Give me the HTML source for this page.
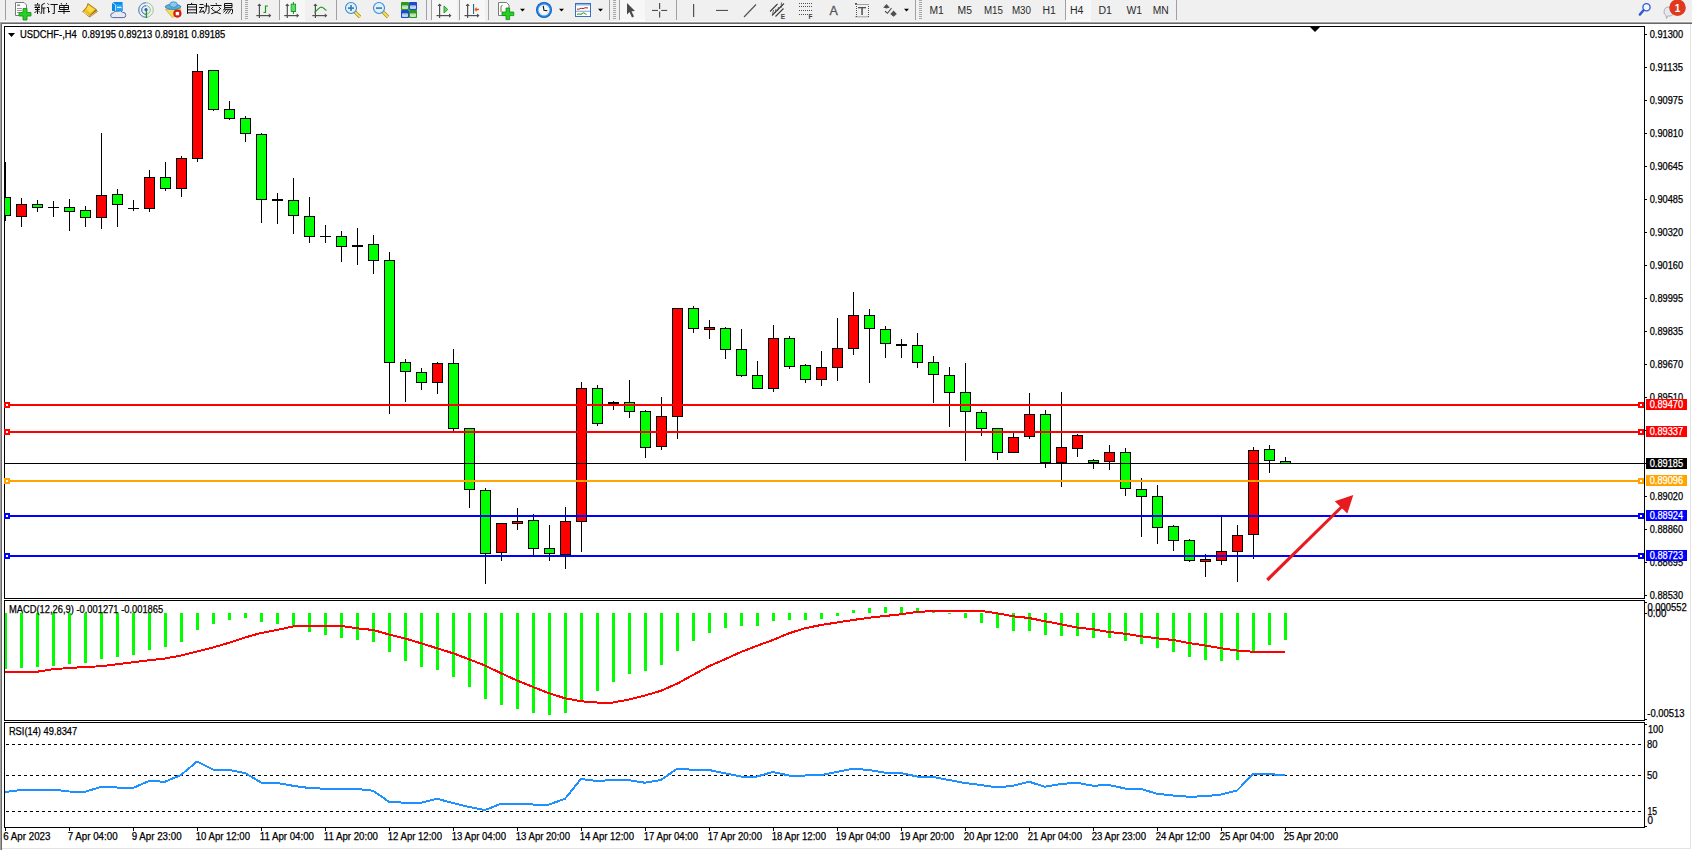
<!DOCTYPE html><html><head><meta charset="utf-8"><style>html,body{margin:0;padding:0;width:1692px;height:850px;overflow:hidden;background:#fff}svg{display:block}text{font-family:"Liberation Sans",sans-serif}</style></head><body><svg width="1692" height="850" viewBox="0 0 1692 850" shape-rendering="crispEdges"><defs><clipPath id="cm"><rect x="5" y="27" width="1639" height="571"/></clipPath><clipPath id="cmacd"><rect x="5" y="601" width="1639" height="119"/></clipPath><clipPath id="crsi"><rect x="5" y="723" width="1639" height="104"/></clipPath></defs><rect x="0" y="0" width="1692" height="850" fill="#ffffff"/><rect x="0" y="0" width="1692" height="22" fill="#f0f0f0"/><rect x="0" y="22" width="1692" height="1" fill="#a0a0a0"/><rect x="0" y="23" width="1692" height="1" fill="#696969"/><rect x="0" y="22" width="1" height="828" fill="#a0a0a0"/><rect x="1" y="23" width="1" height="827" fill="#696969"/><rect x="0" y="21" width="1692" height="1" fill="#f9f9f9"/><rect x="1690" y="24" width="1" height="825" fill="#e3e3e3"/><rect x="2" y="848" width="1689" height="1" fill="#e3e3e3"/><rect x="4" y="26" width="1641" height="1" fill="#000"/><rect x="4" y="598" width="1641" height="1" fill="#000"/><rect x="4" y="26" width="1" height="573" fill="#000"/><rect x="1644" y="26" width="1" height="573" fill="#000"/><rect x="4" y="600" width="1641" height="1" fill="#000"/><rect x="4" y="720" width="1641" height="1" fill="#000"/><rect x="4" y="600" width="1" height="121" fill="#000"/><rect x="1644" y="600" width="1" height="121" fill="#000"/><rect x="4" y="722" width="1641" height="1" fill="#000"/><rect x="4" y="827" width="1641" height="1" fill="#000"/><rect x="4" y="722" width="1" height="106" fill="#000"/><rect x="1644" y="722" width="1" height="106" fill="#000"/><g clip-path="url(#cm)"><rect x="5" y="162" width="1" height="59" fill="#000"/><rect x="0" y="197" width="11" height="19" fill="#000"/><rect x="1" y="198" width="9" height="17" fill="#00ff00"/><rect x="21" y="198" width="1" height="29" fill="#000"/><rect x="16" y="204" width="11" height="13" fill="#000"/><rect x="17" y="205" width="9" height="11" fill="#ff0000"/><rect x="37" y="200" width="1" height="12" fill="#000"/><rect x="32" y="204" width="11" height="4" fill="#000"/><rect x="33" y="205" width="9" height="2" fill="#00ff00"/><rect x="53" y="201" width="1" height="16" fill="#000"/><rect x="48" y="207" width="11" height="1" fill="#000"/><rect x="69" y="199" width="1" height="32" fill="#000"/><rect x="64" y="207" width="11" height="5" fill="#000"/><rect x="65" y="208" width="9" height="3" fill="#00ff00"/><rect x="85" y="206" width="1" height="21" fill="#000"/><rect x="80" y="210" width="11" height="8" fill="#000"/><rect x="81" y="211" width="9" height="6" fill="#00ff00"/><rect x="101" y="133" width="1" height="96" fill="#000"/><rect x="96" y="195" width="11" height="23" fill="#000"/><rect x="97" y="196" width="9" height="21" fill="#ff0000"/><rect x="117" y="189" width="1" height="38" fill="#000"/><rect x="112" y="194" width="11" height="11" fill="#000"/><rect x="113" y="195" width="9" height="9" fill="#00ff00"/><rect x="133" y="200" width="1" height="11" fill="#000"/><rect x="128" y="208" width="11" height="1" fill="#000"/><rect x="149" y="170" width="1" height="42" fill="#000"/><rect x="144" y="177" width="11" height="32" fill="#000"/><rect x="145" y="178" width="9" height="30" fill="#ff0000"/><rect x="165" y="162" width="1" height="29" fill="#000"/><rect x="160" y="177" width="11" height="12" fill="#000"/><rect x="161" y="178" width="9" height="10" fill="#00ff00"/><rect x="181" y="156" width="1" height="41" fill="#000"/><rect x="176" y="158" width="11" height="31" fill="#000"/><rect x="177" y="159" width="9" height="29" fill="#ff0000"/><rect x="197" y="54" width="1" height="108" fill="#000"/><rect x="192" y="71" width="11" height="88" fill="#000"/><rect x="193" y="72" width="9" height="86" fill="#ff0000"/><rect x="213" y="70" width="1" height="41" fill="#000"/><rect x="208" y="70" width="11" height="40" fill="#000"/><rect x="209" y="71" width="9" height="38" fill="#00ff00"/><rect x="229" y="101" width="1" height="19" fill="#000"/><rect x="224" y="109" width="11" height="10" fill="#000"/><rect x="225" y="110" width="9" height="8" fill="#00ff00"/><rect x="245" y="116" width="1" height="26" fill="#000"/><rect x="240" y="118" width="11" height="16" fill="#000"/><rect x="241" y="119" width="9" height="14" fill="#00ff00"/><rect x="261" y="133" width="1" height="90" fill="#000"/><rect x="256" y="134" width="11" height="66" fill="#000"/><rect x="257" y="135" width="9" height="64" fill="#00ff00"/><rect x="277" y="193" width="1" height="31" fill="#000"/><rect x="272" y="199" width="11" height="2" fill="#000"/><rect x="293" y="178" width="1" height="56" fill="#000"/><rect x="288" y="200" width="11" height="16" fill="#000"/><rect x="289" y="201" width="9" height="14" fill="#00ff00"/><rect x="309" y="197" width="1" height="46" fill="#000"/><rect x="304" y="216" width="11" height="21" fill="#000"/><rect x="305" y="217" width="9" height="19" fill="#00ff00"/><rect x="325" y="225" width="1" height="18" fill="#000"/><rect x="320" y="236" width="11" height="1" fill="#000"/><rect x="341" y="231" width="1" height="31" fill="#000"/><rect x="336" y="236" width="11" height="11" fill="#000"/><rect x="337" y="237" width="9" height="9" fill="#00ff00"/><rect x="357" y="228" width="1" height="37" fill="#000"/><rect x="352" y="245" width="11" height="2" fill="#000"/><rect x="373" y="235" width="1" height="39" fill="#000"/><rect x="368" y="244" width="11" height="17" fill="#000"/><rect x="369" y="245" width="9" height="15" fill="#00ff00"/><rect x="389" y="252" width="1" height="162" fill="#000"/><rect x="384" y="260" width="11" height="103" fill="#000"/><rect x="385" y="261" width="9" height="101" fill="#00ff00"/><rect x="405" y="359" width="1" height="43" fill="#000"/><rect x="400" y="362" width="11" height="10" fill="#000"/><rect x="401" y="363" width="9" height="8" fill="#00ff00"/><rect x="421" y="368" width="1" height="22" fill="#000"/><rect x="416" y="372" width="11" height="11" fill="#000"/><rect x="417" y="373" width="9" height="9" fill="#00ff00"/><rect x="437" y="362" width="1" height="32" fill="#000"/><rect x="432" y="363" width="11" height="20" fill="#000"/><rect x="433" y="364" width="9" height="18" fill="#ff0000"/><rect x="453" y="349" width="1" height="83" fill="#000"/><rect x="448" y="363" width="11" height="66" fill="#000"/><rect x="449" y="364" width="9" height="64" fill="#00ff00"/><rect x="469" y="428" width="1" height="80" fill="#000"/><rect x="464" y="428" width="11" height="62" fill="#000"/><rect x="465" y="429" width="9" height="60" fill="#00ff00"/><rect x="485" y="488" width="1" height="96" fill="#000"/><rect x="480" y="490" width="11" height="64" fill="#000"/><rect x="481" y="491" width="9" height="62" fill="#00ff00"/><rect x="501" y="523" width="1" height="38" fill="#000"/><rect x="496" y="523" width="11" height="30" fill="#000"/><rect x="497" y="524" width="9" height="28" fill="#ff0000"/><rect x="517" y="508" width="1" height="22" fill="#000"/><rect x="512" y="521" width="11" height="3" fill="#000"/><rect x="513" y="522" width="9" height="1" fill="#ff0000"/><rect x="533" y="514" width="1" height="42" fill="#000"/><rect x="528" y="520" width="11" height="29" fill="#000"/><rect x="529" y="521" width="9" height="27" fill="#00ff00"/><rect x="549" y="525" width="1" height="36" fill="#000"/><rect x="544" y="548" width="11" height="6" fill="#000"/><rect x="545" y="549" width="9" height="4" fill="#00ff00"/><rect x="565" y="507" width="1" height="62" fill="#000"/><rect x="560" y="521" width="11" height="34" fill="#000"/><rect x="561" y="522" width="9" height="32" fill="#ff0000"/><rect x="581" y="382" width="1" height="170" fill="#000"/><rect x="576" y="388" width="11" height="134" fill="#000"/><rect x="577" y="389" width="9" height="132" fill="#ff0000"/><rect x="597" y="385" width="1" height="41" fill="#000"/><rect x="592" y="388" width="11" height="36" fill="#000"/><rect x="593" y="389" width="9" height="34" fill="#00ff00"/><rect x="613" y="401" width="1" height="9" fill="#000"/><rect x="608" y="402" width="11" height="2" fill="#000"/><rect x="629" y="380" width="1" height="38" fill="#000"/><rect x="624" y="402" width="11" height="10" fill="#000"/><rect x="625" y="403" width="9" height="8" fill="#00ff00"/><rect x="645" y="410" width="1" height="48" fill="#000"/><rect x="640" y="411" width="11" height="37" fill="#000"/><rect x="641" y="412" width="9" height="35" fill="#00ff00"/><rect x="661" y="397" width="1" height="53" fill="#000"/><rect x="656" y="416" width="11" height="31" fill="#000"/><rect x="657" y="417" width="9" height="29" fill="#ff0000"/><rect x="677" y="308" width="1" height="131" fill="#000"/><rect x="672" y="308" width="11" height="109" fill="#000"/><rect x="673" y="309" width="9" height="107" fill="#ff0000"/><rect x="693" y="306" width="1" height="27" fill="#000"/><rect x="688" y="308" width="11" height="21" fill="#000"/><rect x="689" y="309" width="9" height="19" fill="#00ff00"/><rect x="709" y="320" width="1" height="19" fill="#000"/><rect x="704" y="327" width="11" height="3" fill="#000"/><rect x="705" y="328" width="9" height="1" fill="#ff0000"/><rect x="725" y="327" width="1" height="32" fill="#000"/><rect x="720" y="328" width="11" height="22" fill="#000"/><rect x="721" y="329" width="9" height="20" fill="#00ff00"/><rect x="741" y="329" width="1" height="48" fill="#000"/><rect x="736" y="349" width="11" height="27" fill="#000"/><rect x="737" y="350" width="9" height="25" fill="#00ff00"/><rect x="757" y="361" width="1" height="28" fill="#000"/><rect x="752" y="375" width="11" height="14" fill="#000"/><rect x="753" y="376" width="9" height="12" fill="#00ff00"/><rect x="773" y="325" width="1" height="67" fill="#000"/><rect x="768" y="338" width="11" height="51" fill="#000"/><rect x="769" y="339" width="9" height="49" fill="#ff0000"/><rect x="789" y="336" width="1" height="33" fill="#000"/><rect x="784" y="338" width="11" height="29" fill="#000"/><rect x="785" y="339" width="9" height="27" fill="#00ff00"/><rect x="805" y="364" width="1" height="19" fill="#000"/><rect x="800" y="365" width="11" height="15" fill="#000"/><rect x="801" y="366" width="9" height="13" fill="#00ff00"/><rect x="821" y="351" width="1" height="35" fill="#000"/><rect x="816" y="367" width="11" height="13" fill="#000"/><rect x="817" y="368" width="9" height="11" fill="#ff0000"/><rect x="837" y="318" width="1" height="63" fill="#000"/><rect x="832" y="348" width="11" height="20" fill="#000"/><rect x="833" y="349" width="9" height="18" fill="#ff0000"/><rect x="853" y="292" width="1" height="63" fill="#000"/><rect x="848" y="315" width="11" height="34" fill="#000"/><rect x="849" y="316" width="9" height="32" fill="#ff0000"/><rect x="869" y="309" width="1" height="74" fill="#000"/><rect x="864" y="315" width="11" height="14" fill="#000"/><rect x="865" y="316" width="9" height="12" fill="#00ff00"/><rect x="885" y="326" width="1" height="32" fill="#000"/><rect x="880" y="329" width="11" height="15" fill="#000"/><rect x="881" y="330" width="9" height="13" fill="#00ff00"/><rect x="901" y="339" width="1" height="19" fill="#000"/><rect x="896" y="344" width="11" height="2" fill="#000"/><rect x="917" y="333" width="1" height="35" fill="#000"/><rect x="912" y="345" width="11" height="18" fill="#000"/><rect x="913" y="346" width="9" height="16" fill="#00ff00"/><rect x="933" y="356" width="1" height="47" fill="#000"/><rect x="928" y="362" width="11" height="13" fill="#000"/><rect x="929" y="363" width="9" height="11" fill="#00ff00"/><rect x="949" y="367" width="1" height="60" fill="#000"/><rect x="944" y="375" width="11" height="18" fill="#000"/><rect x="945" y="376" width="9" height="16" fill="#00ff00"/><rect x="965" y="363" width="1" height="98" fill="#000"/><rect x="960" y="392" width="11" height="20" fill="#000"/><rect x="961" y="393" width="9" height="18" fill="#00ff00"/><rect x="981" y="410" width="1" height="26" fill="#000"/><rect x="976" y="412" width="11" height="17" fill="#000"/><rect x="977" y="413" width="9" height="15" fill="#00ff00"/><rect x="997" y="428" width="1" height="32" fill="#000"/><rect x="992" y="428" width="11" height="25" fill="#000"/><rect x="993" y="429" width="9" height="23" fill="#00ff00"/><rect x="1013" y="433" width="1" height="20" fill="#000"/><rect x="1008" y="437" width="11" height="16" fill="#000"/><rect x="1009" y="438" width="9" height="14" fill="#ff0000"/><rect x="1029" y="393" width="1" height="46" fill="#000"/><rect x="1024" y="414" width="11" height="23" fill="#000"/><rect x="1025" y="415" width="9" height="21" fill="#ff0000"/><rect x="1045" y="410" width="1" height="58" fill="#000"/><rect x="1040" y="414" width="11" height="49" fill="#000"/><rect x="1041" y="415" width="9" height="47" fill="#00ff00"/><rect x="1061" y="392" width="1" height="95" fill="#000"/><rect x="1056" y="447" width="11" height="16" fill="#000"/><rect x="1057" y="448" width="9" height="14" fill="#ff0000"/><rect x="1077" y="434" width="1" height="23" fill="#000"/><rect x="1072" y="435" width="11" height="14" fill="#000"/><rect x="1073" y="436" width="9" height="12" fill="#ff0000"/><rect x="1093" y="459" width="1" height="10" fill="#000"/><rect x="1088" y="460" width="11" height="3" fill="#000"/><rect x="1089" y="461" width="9" height="1" fill="#00ff00"/><rect x="1109" y="445" width="1" height="25" fill="#000"/><rect x="1104" y="452" width="11" height="10" fill="#000"/><rect x="1105" y="453" width="9" height="8" fill="#ff0000"/><rect x="1125" y="448" width="1" height="48" fill="#000"/><rect x="1120" y="452" width="11" height="37" fill="#000"/><rect x="1121" y="453" width="9" height="35" fill="#00ff00"/><rect x="1141" y="478" width="1" height="59" fill="#000"/><rect x="1136" y="489" width="11" height="8" fill="#000"/><rect x="1137" y="490" width="9" height="6" fill="#00ff00"/><rect x="1157" y="485" width="1" height="59" fill="#000"/><rect x="1152" y="496" width="11" height="32" fill="#000"/><rect x="1153" y="497" width="9" height="30" fill="#00ff00"/><rect x="1173" y="525" width="1" height="26" fill="#000"/><rect x="1168" y="526" width="11" height="15" fill="#000"/><rect x="1169" y="527" width="9" height="13" fill="#00ff00"/><rect x="1189" y="539" width="1" height="23" fill="#000"/><rect x="1184" y="540" width="11" height="21" fill="#000"/><rect x="1185" y="541" width="9" height="19" fill="#00ff00"/><rect x="1205" y="554" width="1" height="23" fill="#000"/><rect x="1200" y="559" width="11" height="3" fill="#000"/><rect x="1201" y="560" width="9" height="1" fill="#ff0000"/><rect x="1221" y="516" width="1" height="49" fill="#000"/><rect x="1216" y="551" width="11" height="10" fill="#000"/><rect x="1217" y="552" width="9" height="8" fill="#ff0000"/><rect x="1237" y="525" width="1" height="57" fill="#000"/><rect x="1232" y="535" width="11" height="17" fill="#000"/><rect x="1233" y="536" width="9" height="15" fill="#ff0000"/><rect x="1253" y="447" width="1" height="112" fill="#000"/><rect x="1248" y="450" width="11" height="85" fill="#000"/><rect x="1249" y="451" width="9" height="83" fill="#ff0000"/><rect x="1269" y="445" width="1" height="28" fill="#000"/><rect x="1264" y="449" width="11" height="12" fill="#000"/><rect x="1265" y="450" width="9" height="10" fill="#00ff00"/><rect x="1285" y="457" width="1" height="7" fill="#000"/><rect x="1280" y="461" width="11" height="3" fill="#000"/><rect x="1281" y="462" width="9" height="1" fill="#00ff00"/></g><rect x="5" y="404" width="1639" height="2" fill="#ff0000"/><rect x="4" y="402" width="6" height="6" fill="#ff0000"/><rect x="6" y="404" width="2" height="2" fill="#fff"/><rect x="1638" y="402" width="6" height="6" fill="#ff0000"/><rect x="1640" y="404" width="2" height="2" fill="#fff"/><rect x="5" y="431" width="1639" height="2" fill="#ff0000"/><rect x="4" y="429" width="6" height="6" fill="#ff0000"/><rect x="6" y="431" width="2" height="2" fill="#fff"/><rect x="1638" y="429" width="6" height="6" fill="#ff0000"/><rect x="1640" y="431" width="2" height="2" fill="#fff"/><rect x="5" y="480" width="1639" height="2" fill="#ffa500"/><rect x="4" y="478" width="6" height="6" fill="#ffa500"/><rect x="6" y="480" width="2" height="2" fill="#fff"/><rect x="1638" y="478" width="6" height="6" fill="#ffa500"/><rect x="1640" y="480" width="2" height="2" fill="#fff"/><rect x="5" y="515" width="1639" height="2" fill="#0000ff"/><rect x="4" y="513" width="6" height="6" fill="#0000ff"/><rect x="6" y="515" width="2" height="2" fill="#fff"/><rect x="1638" y="513" width="6" height="6" fill="#0000ff"/><rect x="1640" y="515" width="2" height="2" fill="#fff"/><rect x="5" y="555" width="1639" height="2" fill="#0000ff"/><rect x="4" y="553" width="6" height="6" fill="#0000ff"/><rect x="6" y="555" width="2" height="2" fill="#fff"/><rect x="1638" y="553" width="6" height="6" fill="#0000ff"/><rect x="1640" y="555" width="2" height="2" fill="#fff"/><rect x="5" y="463" width="1639" height="1" fill="#000"/><path d="M1310 27 L1320 27 L1315 32 Z" fill="#000" shape-rendering="geometricPrecision"/><g shape-rendering="geometricPrecision" fill="#e8191f" stroke="none"><path d="M1266.2 578.8 L1341 505.5 L1343 507.6 L1268.4 581.2 Z"/><path d="M1334.8 501.2 L1353.3 495 L1347.3 513.6 Z"/></g><g clip-path="url(#cmacd)"><rect x="4" y="613" width="3" height="56" fill="#00ff00"/><rect x="20" y="613" width="3" height="55" fill="#00ff00"/><rect x="36" y="613" width="3" height="54" fill="#00ff00"/><rect x="52" y="613" width="3" height="53" fill="#00ff00"/><rect x="68" y="613" width="3" height="51" fill="#00ff00"/><rect x="84" y="613" width="3" height="50" fill="#00ff00"/><rect x="100" y="613" width="3" height="46" fill="#00ff00"/><rect x="116" y="613" width="3" height="44" fill="#00ff00"/><rect x="132" y="613" width="3" height="42" fill="#00ff00"/><rect x="148" y="613" width="3" height="37" fill="#00ff00"/><rect x="164" y="613" width="3" height="34" fill="#00ff00"/><rect x="180" y="613" width="3" height="29" fill="#00ff00"/><rect x="196" y="613" width="3" height="17" fill="#00ff00"/><rect x="212" y="613" width="3" height="11" fill="#00ff00"/><rect x="228" y="613" width="3" height="7" fill="#00ff00"/><rect x="244" y="613" width="3" height="5" fill="#00ff00"/><rect x="260" y="613" width="3" height="9" fill="#00ff00"/><rect x="276" y="613" width="3" height="11" fill="#00ff00"/><rect x="292" y="613" width="3" height="14" fill="#00ff00"/><rect x="308" y="613" width="3" height="19" fill="#00ff00"/><rect x="324" y="613" width="3" height="22" fill="#00ff00"/><rect x="340" y="613" width="3" height="25" fill="#00ff00"/><rect x="356" y="613" width="3" height="27" fill="#00ff00"/><rect x="372" y="613" width="3" height="29" fill="#00ff00"/><rect x="388" y="613" width="3" height="39" fill="#00ff00"/><rect x="404" y="613" width="3" height="48" fill="#00ff00"/><rect x="420" y="613" width="3" height="54" fill="#00ff00"/><rect x="436" y="613" width="3" height="57" fill="#00ff00"/><rect x="452" y="613" width="3" height="64" fill="#00ff00"/><rect x="468" y="613" width="3" height="74" fill="#00ff00"/><rect x="484" y="613" width="3" height="86" fill="#00ff00"/><rect x="500" y="613" width="3" height="92" fill="#00ff00"/><rect x="516" y="613" width="3" height="96" fill="#00ff00"/><rect x="532" y="613" width="3" height="100" fill="#00ff00"/><rect x="548" y="613" width="3" height="102" fill="#00ff00"/><rect x="564" y="613" width="3" height="100" fill="#00ff00"/><rect x="580" y="613" width="3" height="87" fill="#00ff00"/><rect x="596" y="613" width="3" height="78" fill="#00ff00"/><rect x="612" y="613" width="3" height="69" fill="#00ff00"/><rect x="628" y="613" width="3" height="61" fill="#00ff00"/><rect x="644" y="613" width="3" height="58" fill="#00ff00"/><rect x="660" y="613" width="3" height="52" fill="#00ff00"/><rect x="676" y="613" width="3" height="38" fill="#00ff00"/><rect x="692" y="613" width="3" height="28" fill="#00ff00"/><rect x="708" y="613" width="3" height="20" fill="#00ff00"/><rect x="724" y="613" width="3" height="15" fill="#00ff00"/><rect x="740" y="613" width="3" height="13" fill="#00ff00"/><rect x="756" y="613" width="3" height="13" fill="#00ff00"/><rect x="772" y="613" width="3" height="8" fill="#00ff00"/><rect x="788" y="613" width="3" height="7" fill="#00ff00"/><rect x="804" y="613" width="3" height="7" fill="#00ff00"/><rect x="820" y="613" width="3" height="6" fill="#00ff00"/><rect x="836" y="613" width="3" height="3" fill="#00ff00"/><rect x="852" y="610" width="3" height="3" fill="#00ff00"/><rect x="868" y="608" width="3" height="5" fill="#00ff00"/><rect x="884" y="607" width="3" height="6" fill="#00ff00"/><rect x="900" y="607" width="3" height="6" fill="#00ff00"/><rect x="916" y="608" width="3" height="5" fill="#00ff00"/><rect x="932" y="610" width="3" height="3" fill="#00ff00"/><rect x="948" y="613" width="3" height="1" fill="#00ff00"/><rect x="964" y="613" width="3" height="5" fill="#00ff00"/><rect x="980" y="613" width="3" height="10" fill="#00ff00"/><rect x="996" y="613" width="3" height="15" fill="#00ff00"/><rect x="1012" y="613" width="3" height="18" fill="#00ff00"/><rect x="1028" y="613" width="3" height="18" fill="#00ff00"/><rect x="1044" y="613" width="3" height="22" fill="#00ff00"/><rect x="1060" y="613" width="3" height="23" fill="#00ff00"/><rect x="1076" y="613" width="3" height="23" fill="#00ff00"/><rect x="1092" y="613" width="3" height="25" fill="#00ff00"/><rect x="1108" y="613" width="3" height="25" fill="#00ff00"/><rect x="1124" y="613" width="3" height="28" fill="#00ff00"/><rect x="1140" y="613" width="3" height="31" fill="#00ff00"/><rect x="1156" y="613" width="3" height="35" fill="#00ff00"/><rect x="1172" y="613" width="3" height="39" fill="#00ff00"/><rect x="1188" y="613" width="3" height="44" fill="#00ff00"/><rect x="1204" y="613" width="3" height="47" fill="#00ff00"/><rect x="1220" y="613" width="3" height="48" fill="#00ff00"/><rect x="1236" y="613" width="3" height="47" fill="#00ff00"/><rect x="1252" y="613" width="3" height="38" fill="#00ff00"/><rect x="1268" y="613" width="3" height="32" fill="#00ff00"/><rect x="1284" y="613" width="3" height="27" fill="#00ff00"/><polyline points="5,672.00 21,672.00 37,671.75 53,669.25 69,668.00 85,667.00 101,666.25 117,664.25 133,662.25 149,660.25 165,658.50 181,655.50 197,651.50 213,647.50 229,642.75 245,637.50 261,633.00 277,630.00 293,626.50 309,625.75 325,625.75 341,626.00 357,628.25 373,630.00 389,634.50 405,638.50 421,643.25 437,648.25 453,653.25 469,659.25 485,665.50 501,673.25 517,680.50 533,687.00 549,693.25 565,698.25 581,701.25 597,702.50 613,702.50 629,699.50 645,695.50 661,690.75 677,683.75 693,675.00 709,666.25 725,659.25 741,652.00 757,645.75 773,640.00 789,633.25 805,628.25 821,625.00 837,622.50 853,620.00 869,617.75 885,616.00 901,614.25 917,612.00 933,611.00 949,610.75 965,610.75 981,611.00 997,613.25 1013,616.25 1029,618.00 1045,621.25 1061,624.25 1077,627.50 1093,629.25 1109,632.00 1125,633.75 1141,636.25 1157,638.25 1173,640.00 1189,643.00 1205,645.50 1221,648.25 1237,650.50 1253,651.75 1269,651.75 1285,651.75" fill="none" stroke="#ff0000" stroke-width="2" shape-rendering="crispEdges"/></g><g clip-path="url(#crsi)"><line x1="6" y1="744.5" x2="1644" y2="744.5" stroke="#000" stroke-width="1" stroke-dasharray="3 3"/><line x1="6" y1="775.5" x2="1644" y2="775.5" stroke="#000" stroke-width="1" stroke-dasharray="3 3"/><line x1="6" y1="811.5" x2="1644" y2="811.5" stroke="#000" stroke-width="1" stroke-dasharray="3 3"/><polyline points="5,792.00 21,790.00 37,789.50 53,789.50 69,791.50 85,791.75 101,787.00 117,787.50 133,788.00 149,781.00 165,781.75 181,775.00 197,761.50 213,769.50 229,770.00 245,773.00 261,782.50 277,783.00 293,785.75 309,788.00 325,788.75 341,788.75 357,789.00 373,790.75 389,801.75 405,802.75 421,802.75 437,798.75 453,803.00 469,807.00 485,810.00 501,803.75 517,803.75 533,804.50 549,804.50 565,798.75 581,779.00 597,781.00 613,780.00 629,780.25 645,782.75 661,780.00 677,768.75 693,769.75 709,770.00 725,773.25 741,776.50 757,776.50 773,772.00 789,775.50 805,775.50 821,775.00 837,772.00 853,768.75 869,770.00 885,772.75 901,773.00 917,776.50 933,777.00 949,780.00 965,783.00 981,785.00 997,787.50 1013,785.75 1029,781.75 1045,786.75 1061,784.00 1077,782.75 1093,785.75 1109,785.00 1125,788.50 1141,789.00 1157,793.75 1173,795.50 1189,796.75 1205,796.25 1221,794.50 1237,790.50 1253,774.25 1269,774.25 1285,775.00" fill="none" stroke="#1e90ff" stroke-width="2" shape-rendering="crispEdges"/></g><rect x="1645" y="34" width="2" height="1" fill="#000"/><rect x="1645" y="67" width="2" height="1" fill="#000"/><rect x="1645" y="100" width="2" height="1" fill="#000"/><rect x="1645" y="133" width="2" height="1" fill="#000"/><rect x="1645" y="166" width="2" height="1" fill="#000"/><rect x="1645" y="199" width="2" height="1" fill="#000"/><rect x="1645" y="232" width="2" height="1" fill="#000"/><rect x="1645" y="265" width="2" height="1" fill="#000"/><rect x="1645" y="298" width="2" height="1" fill="#000"/><rect x="1645" y="331" width="2" height="1" fill="#000"/><rect x="1645" y="364" width="2" height="1" fill="#000"/><rect x="1645" y="397" width="2" height="1" fill="#000"/><rect x="1645" y="430" width="2" height="1" fill="#000"/><rect x="1645" y="463" width="2" height="1" fill="#000"/><rect x="1645" y="496" width="2" height="1" fill="#000"/><rect x="1645" y="529" width="2" height="1" fill="#000"/><rect x="1645" y="562" width="2" height="1" fill="#000"/><rect x="1645" y="595" width="2" height="1" fill="#000"/><text x="1649.7" y="38" fill="#000" stroke="#000" stroke-width="0.25" font-size="10" text-anchor="start"  textLength="33.4" lengthAdjust="spacingAndGlyphs">0.91300</text><text x="1649.7" y="71" fill="#000" stroke="#000" stroke-width="0.25" font-size="10" text-anchor="start"  textLength="33.4" lengthAdjust="spacingAndGlyphs">0.91135</text><text x="1649.7" y="104" fill="#000" stroke="#000" stroke-width="0.25" font-size="10" text-anchor="start"  textLength="33.4" lengthAdjust="spacingAndGlyphs">0.90975</text><text x="1649.7" y="137" fill="#000" stroke="#000" stroke-width="0.25" font-size="10" text-anchor="start"  textLength="33.4" lengthAdjust="spacingAndGlyphs">0.90810</text><text x="1649.7" y="170" fill="#000" stroke="#000" stroke-width="0.25" font-size="10" text-anchor="start"  textLength="33.4" lengthAdjust="spacingAndGlyphs">0.90645</text><text x="1649.7" y="203" fill="#000" stroke="#000" stroke-width="0.25" font-size="10" text-anchor="start"  textLength="33.4" lengthAdjust="spacingAndGlyphs">0.90485</text><text x="1649.7" y="236" fill="#000" stroke="#000" stroke-width="0.25" font-size="10" text-anchor="start"  textLength="33.4" lengthAdjust="spacingAndGlyphs">0.90320</text><text x="1649.7" y="269" fill="#000" stroke="#000" stroke-width="0.25" font-size="10" text-anchor="start"  textLength="33.4" lengthAdjust="spacingAndGlyphs">0.90160</text><text x="1649.7" y="302" fill="#000" stroke="#000" stroke-width="0.25" font-size="10" text-anchor="start"  textLength="33.4" lengthAdjust="spacingAndGlyphs">0.89995</text><text x="1649.7" y="335" fill="#000" stroke="#000" stroke-width="0.25" font-size="10" text-anchor="start"  textLength="33.4" lengthAdjust="spacingAndGlyphs">0.89835</text><text x="1649.7" y="368" fill="#000" stroke="#000" stroke-width="0.25" font-size="10" text-anchor="start"  textLength="33.4" lengthAdjust="spacingAndGlyphs">0.89670</text><text x="1649.7" y="401" fill="#000" stroke="#000" stroke-width="0.25" font-size="10" text-anchor="start"  textLength="33.4" lengthAdjust="spacingAndGlyphs">0.89510</text><text x="1649.7" y="434" fill="#000" stroke="#000" stroke-width="0.25" font-size="10" text-anchor="start"  textLength="33.4" lengthAdjust="spacingAndGlyphs">0.89345</text><text x="1649.7" y="467" fill="#000" stroke="#000" stroke-width="0.25" font-size="10" text-anchor="start"  textLength="33.4" lengthAdjust="spacingAndGlyphs">0.89185</text><text x="1649.7" y="500" fill="#000" stroke="#000" stroke-width="0.25" font-size="10" text-anchor="start"  textLength="33.4" lengthAdjust="spacingAndGlyphs">0.89020</text><text x="1649.7" y="533" fill="#000" stroke="#000" stroke-width="0.25" font-size="10" text-anchor="start"  textLength="33.4" lengthAdjust="spacingAndGlyphs">0.88860</text><text x="1649.7" y="566" fill="#000" stroke="#000" stroke-width="0.25" font-size="10" text-anchor="start"  textLength="33.4" lengthAdjust="spacingAndGlyphs">0.88695</text><text x="1649.7" y="599" fill="#000" stroke="#000" stroke-width="0.25" font-size="10" text-anchor="start"  textLength="33.4" lengthAdjust="spacingAndGlyphs">0.88530</text><rect x="1646" y="399" width="41" height="11" fill="#ff0000"/><rect x="1646" y="426" width="41" height="11" fill="#ff0000"/><rect x="1646" y="475" width="41" height="11" fill="#ffa500"/><rect x="1646" y="510" width="41" height="11" fill="#0000ff"/><rect x="1646" y="550" width="41" height="11" fill="#0000ff"/><rect x="1646" y="458" width="41" height="11" fill="#000"/><rect x="1645" y="602" width="2" height="1" fill="#000"/><rect x="1645" y="613" width="2" height="1" fill="#000"/><rect x="1645" y="719" width="2" height="1" fill="#000"/><rect x="1645" y="724" width="2" height="1" fill="#000"/><rect x="1645" y="826" width="2" height="1" fill="#000"/><rect x="5" y="828" width="1" height="3" fill="#000"/><rect x="69" y="828" width="1" height="3" fill="#000"/><rect x="133" y="828" width="1" height="3" fill="#000"/><rect x="197" y="828" width="1" height="3" fill="#000"/><rect x="261" y="828" width="1" height="3" fill="#000"/><rect x="325" y="828" width="1" height="3" fill="#000"/><rect x="389" y="828" width="1" height="3" fill="#000"/><rect x="453" y="828" width="1" height="3" fill="#000"/><rect x="517" y="828" width="1" height="3" fill="#000"/><rect x="581" y="828" width="1" height="3" fill="#000"/><rect x="645" y="828" width="1" height="3" fill="#000"/><rect x="709" y="828" width="1" height="3" fill="#000"/><rect x="773" y="828" width="1" height="3" fill="#000"/><rect x="837" y="828" width="1" height="3" fill="#000"/><rect x="901" y="828" width="1" height="3" fill="#000"/><rect x="965" y="828" width="1" height="3" fill="#000"/><rect x="1029" y="828" width="1" height="3" fill="#000"/><rect x="1093" y="828" width="1" height="3" fill="#000"/><rect x="1157" y="828" width="1" height="3" fill="#000"/><rect x="1221" y="828" width="1" height="3" fill="#000"/><rect x="1285" y="828" width="1" height="3" fill="#000"/><path d="M8 33 L15 33 L11.5 37 Z" fill="#000" shape-rendering="geometricPrecision"/><text x="1649.7" y="408" fill="#fff" stroke="#fff" stroke-width="0.25" font-size="10" text-anchor="start"  textLength="33.4" lengthAdjust="spacingAndGlyphs">0.89470</text><text x="1649.7" y="435" fill="#fff" stroke="#fff" stroke-width="0.25" font-size="10" text-anchor="start"  textLength="33.4" lengthAdjust="spacingAndGlyphs">0.89337</text><text x="1649.7" y="484" fill="#fff" stroke="#fff" stroke-width="0.25" font-size="10" text-anchor="start"  textLength="33.4" lengthAdjust="spacingAndGlyphs">0.89096</text><text x="1649.7" y="519" fill="#fff" stroke="#fff" stroke-width="0.25" font-size="10" text-anchor="start"  textLength="33.4" lengthAdjust="spacingAndGlyphs">0.88924</text><text x="1649.7" y="559" fill="#fff" stroke="#fff" stroke-width="0.25" font-size="10" text-anchor="start"  textLength="33.4" lengthAdjust="spacingAndGlyphs">0.88723</text><text x="1649.7" y="467" fill="#fff" stroke="#fff" stroke-width="0.25" font-size="10" text-anchor="start"  textLength="33.4" lengthAdjust="spacingAndGlyphs">0.89185</text><text x="1647.5" y="611" fill="#000" stroke="#000" stroke-width="0.25" font-size="10" text-anchor="start"  textLength="39.2" lengthAdjust="spacingAndGlyphs">0.000552</text><text x="1647.5" y="617" fill="#000" stroke="#000" stroke-width="0.25" font-size="10" text-anchor="start"  textLength="18.8" lengthAdjust="spacingAndGlyphs">0.00</text><text x="1647.25" y="717" fill="#000" stroke="#000" stroke-width="0.25" font-size="10" text-anchor="start"  textLength="37.2" lengthAdjust="spacingAndGlyphs">-0.00513</text><text x="1648.0" y="733" fill="#000" stroke="#000" stroke-width="0.25" font-size="10" text-anchor="start"  textLength="15.2" lengthAdjust="spacingAndGlyphs">100</text><text x="1647.0" y="748" fill="#000" stroke="#000" stroke-width="0.25" font-size="10" text-anchor="start"  textLength="10.5" lengthAdjust="spacingAndGlyphs">80</text><text x="1647.0" y="779" fill="#000" stroke="#000" stroke-width="0.25" font-size="10" text-anchor="start"  textLength="10.5" lengthAdjust="spacingAndGlyphs">50</text><text x="1647.5" y="815" fill="#000" stroke="#000" stroke-width="0.25" font-size="10" text-anchor="start"  textLength="9.5" lengthAdjust="spacingAndGlyphs">15</text><text x="1647.5" y="824" fill="#000" stroke="#000" stroke-width="0.25" font-size="10" text-anchor="start"  textLength="5.5" lengthAdjust="spacingAndGlyphs">0</text><text x="3.25" y="840" fill="#000" stroke="#000" stroke-width="0.25" font-size="10" text-anchor="start"  textLength="47.2" lengthAdjust="spacingAndGlyphs">6 Apr 2023</text><text x="67.75" y="840" fill="#000" stroke="#000" stroke-width="0.25" font-size="10" text-anchor="start"  textLength="49.8" lengthAdjust="spacingAndGlyphs">7 Apr 04:00</text><text x="131.75" y="840" fill="#000" stroke="#000" stroke-width="0.25" font-size="10" text-anchor="start"  textLength="49.8" lengthAdjust="spacingAndGlyphs">9 Apr 23:00</text><text x="195.75" y="840" fill="#000" stroke="#000" stroke-width="0.25" font-size="10" text-anchor="start"  textLength="54.2" lengthAdjust="spacingAndGlyphs">10 Apr 12:00</text><text x="259.75" y="840" fill="#000" stroke="#000" stroke-width="0.25" font-size="10" text-anchor="start"  textLength="54.2" lengthAdjust="spacingAndGlyphs">11 Apr 04:00</text><text x="323.75" y="840" fill="#000" stroke="#000" stroke-width="0.25" font-size="10" text-anchor="start"  textLength="54.2" lengthAdjust="spacingAndGlyphs">11 Apr 20:00</text><text x="387.75" y="840" fill="#000" stroke="#000" stroke-width="0.25" font-size="10" text-anchor="start"  textLength="54.2" lengthAdjust="spacingAndGlyphs">12 Apr 12:00</text><text x="451.75" y="840" fill="#000" stroke="#000" stroke-width="0.25" font-size="10" text-anchor="start"  textLength="54.2" lengthAdjust="spacingAndGlyphs">13 Apr 04:00</text><text x="515.75" y="840" fill="#000" stroke="#000" stroke-width="0.25" font-size="10" text-anchor="start"  textLength="54.2" lengthAdjust="spacingAndGlyphs">13 Apr 20:00</text><text x="579.75" y="840" fill="#000" stroke="#000" stroke-width="0.25" font-size="10" text-anchor="start"  textLength="54.2" lengthAdjust="spacingAndGlyphs">14 Apr 12:00</text><text x="643.75" y="840" fill="#000" stroke="#000" stroke-width="0.25" font-size="10" text-anchor="start"  textLength="54.2" lengthAdjust="spacingAndGlyphs">17 Apr 04:00</text><text x="707.75" y="840" fill="#000" stroke="#000" stroke-width="0.25" font-size="10" text-anchor="start"  textLength="54.2" lengthAdjust="spacingAndGlyphs">17 Apr 20:00</text><text x="771.75" y="840" fill="#000" stroke="#000" stroke-width="0.25" font-size="10" text-anchor="start"  textLength="54.2" lengthAdjust="spacingAndGlyphs">18 Apr 12:00</text><text x="835.75" y="840" fill="#000" stroke="#000" stroke-width="0.25" font-size="10" text-anchor="start"  textLength="54.2" lengthAdjust="spacingAndGlyphs">19 Apr 04:00</text><text x="899.75" y="840" fill="#000" stroke="#000" stroke-width="0.25" font-size="10" text-anchor="start"  textLength="54.2" lengthAdjust="spacingAndGlyphs">19 Apr 20:00</text><text x="963.75" y="840" fill="#000" stroke="#000" stroke-width="0.25" font-size="10" text-anchor="start"  textLength="54.2" lengthAdjust="spacingAndGlyphs">20 Apr 12:00</text><text x="1027.75" y="840" fill="#000" stroke="#000" stroke-width="0.25" font-size="10" text-anchor="start"  textLength="54.2" lengthAdjust="spacingAndGlyphs">21 Apr 04:00</text><text x="1091.75" y="840" fill="#000" stroke="#000" stroke-width="0.25" font-size="10" text-anchor="start"  textLength="54.2" lengthAdjust="spacingAndGlyphs">23 Apr 23:00</text><text x="1155.75" y="840" fill="#000" stroke="#000" stroke-width="0.25" font-size="10" text-anchor="start"  textLength="54.2" lengthAdjust="spacingAndGlyphs">24 Apr 12:00</text><text x="1219.75" y="840" fill="#000" stroke="#000" stroke-width="0.25" font-size="10" text-anchor="start"  textLength="54.2" lengthAdjust="spacingAndGlyphs">25 Apr 04:00</text><text x="1283.75" y="840" fill="#000" stroke="#000" stroke-width="0.25" font-size="10" text-anchor="start"  textLength="54.2" lengthAdjust="spacingAndGlyphs">25 Apr 20:00</text><text x="20.0" y="38" fill="#000" stroke="#000" stroke-width="0.25" font-size="10" text-anchor="start"  textLength="205.3" lengthAdjust="spacingAndGlyphs">USDCHF-,H4&#160;&#160;0.89195 0.89213 0.89181 0.89185</text><text x="9.0" y="613" fill="#000" stroke="#000" stroke-width="0.25" font-size="10" text-anchor="start"  textLength="154.2" lengthAdjust="spacingAndGlyphs">MACD(12,26,9) -0.001271 -0.001865</text><text x="8.9" y="735" fill="#000" stroke="#000" stroke-width="0.25" font-size="10" text-anchor="start"  textLength="68.3" lengthAdjust="spacingAndGlyphs">RSI(14) 49.8347</text><rect x="5" y="0" width="1" height="20" fill="#a0a0a0"/><rect x="241" y="0" width="1" height="20" fill="#a0a0a0"/><rect x="279" y="0" width="1" height="20" fill="#a0a0a0"/><rect x="336" y="0" width="1" height="20" fill="#a0a0a0"/><rect x="426" y="0" width="1" height="20" fill="#a0a0a0"/><rect x="431" y="0" width="1" height="20" fill="#a0a0a0"/><rect x="459" y="0" width="1" height="20" fill="#a0a0a0"/><rect x="488" y="0" width="1" height="20" fill="#a0a0a0"/><rect x="609" y="0" width="1" height="20" fill="#a0a0a0"/><rect x="619" y="0" width="1" height="20" fill="#a0a0a0"/><rect x="676" y="0" width="1" height="20" fill="#a0a0a0"/><rect x="915" y="0" width="1" height="20" fill="#a0a0a0"/><rect x="1065" y="0" width="1" height="20" fill="#a0a0a0"/><rect x="1176" y="0" width="1" height="20" fill="#a0a0a0"/><rect x="245" y="0" width="3" height="1" fill="#a8a8a8"/><rect x="245" y="2" width="3" height="1" fill="#a8a8a8"/><rect x="245" y="4" width="3" height="1" fill="#a8a8a8"/><rect x="245" y="6" width="3" height="1" fill="#a8a8a8"/><rect x="245" y="8" width="3" height="1" fill="#a8a8a8"/><rect x="245" y="10" width="3" height="1" fill="#a8a8a8"/><rect x="245" y="12" width="3" height="1" fill="#a8a8a8"/><rect x="245" y="14" width="3" height="1" fill="#a8a8a8"/><rect x="245" y="16" width="3" height="1" fill="#a8a8a8"/><rect x="245" y="18" width="3" height="1" fill="#a8a8a8"/><rect x="613" y="0" width="3" height="1" fill="#a8a8a8"/><rect x="613" y="2" width="3" height="1" fill="#a8a8a8"/><rect x="613" y="4" width="3" height="1" fill="#a8a8a8"/><rect x="613" y="6" width="3" height="1" fill="#a8a8a8"/><rect x="613" y="8" width="3" height="1" fill="#a8a8a8"/><rect x="613" y="10" width="3" height="1" fill="#a8a8a8"/><rect x="613" y="12" width="3" height="1" fill="#a8a8a8"/><rect x="613" y="14" width="3" height="1" fill="#a8a8a8"/><rect x="613" y="16" width="3" height="1" fill="#a8a8a8"/><rect x="613" y="18" width="3" height="1" fill="#a8a8a8"/><rect x="919" y="0" width="3" height="1" fill="#a8a8a8"/><rect x="919" y="2" width="3" height="1" fill="#a8a8a8"/><rect x="919" y="4" width="3" height="1" fill="#a8a8a8"/><rect x="919" y="6" width="3" height="1" fill="#a8a8a8"/><rect x="919" y="8" width="3" height="1" fill="#a8a8a8"/><rect x="919" y="10" width="3" height="1" fill="#a8a8a8"/><rect x="919" y="12" width="3" height="1" fill="#a8a8a8"/><rect x="919" y="14" width="3" height="1" fill="#a8a8a8"/><rect x="919" y="16" width="3" height="1" fill="#a8a8a8"/><rect x="919" y="18" width="3" height="1" fill="#a8a8a8"/><rect x="280" y="0" width="25" height="20" fill="#f7f7f7"/><rect x="280" y="20" width="25" height="1" fill="#ffffff"/><rect x="432" y="0" width="25" height="20" fill="#f7f7f7"/><rect x="432" y="20" width="25" height="1" fill="#ffffff"/><rect x="460" y="0" width="25" height="20" fill="#f7f7f7"/><rect x="460" y="20" width="25" height="1" fill="#ffffff"/><rect x="620" y="0" width="25" height="20" fill="#f7f7f7"/><rect x="620" y="20" width="25" height="1" fill="#ffffff"/><rect x="1066" y="0" width="25" height="20" fill="#f7f7f7"/><rect x="1066" y="20" width="25" height="1" fill="#ffffff"/><g shape-rendering="geometricPrecision"><path d="M15.5 2.5 H24 L26.5 5 V15.5 H15.5 Z" fill="#fff" stroke="#7a7a7a" stroke-width="1"/><rect x="17" y="4.5" width="3" height="1.5" fill="#8a8a8a"/><rect x="17" y="8" width="5" height="1" fill="#9a9a9a"/><rect x="17" y="10" width="5" height="1" fill="#9a9a9a"/><rect x="17" y="12" width="3" height="1" fill="#9a9a9a"/><path d="M23 8.5 H27 V12.5 H31 V16 H27 V20 H23 V16 H19 V12.5 H23 Z" fill="#26d026" stroke="#0e8e0e" stroke-width="0.8"/><path d="M87.8 3.1 L96.5 9.2 L97.7 11.7 L89.7 17.6 L82.2 11.8 L86.3 7.1 Z" fill="#a8700e"/><path d="M88.2 4.2 L95.6 9.4 L89.6 15.2 L83.5 11.4 L86.8 7.4 Z" fill="#f0c020"/><path d="M88.5 5.2 L94.5 9.5 L90.5 12.8 L86.5 9.5 Z" fill="#f8dc50"/><path d="M83.6 11.6 L89.6 15.4 L89.8 16.6 L83.2 12.4 Z" fill="#f6e6a0"/><path d="M90.2 16.2 L96.8 11.3" stroke="#e8dcb0" stroke-width="0.8"/><path d="M112 3.5 L114 2 H122.5 V11 H112 Z" fill="#0a8ae8"/><path d="M115.5 4.5 H122.7 V11 H115.5 Z" fill="#22aaf8"/><path d="M112.5 2.8 L115.5 4.8 V11" fill="none" stroke="#d8f0ff" stroke-width="0.8"/><rect x="117" y="6.8" width="4.5" height="1.2" fill="#e8f8ff"/><path d="M111 16.5 Q110 13.2 113.2 13 Q114.5 10.3 117.8 11.3 Q120.5 9.8 122.5 12.3 Q126 12 125.8 15.5 Q125.8 17.6 123.2 17.6 H112.6 Q111.2 17.6 111 16.5 Z" fill="#e6eaf4" stroke="#4a5a90" stroke-width="0.9"/><circle cx="146" cy="10" r="7.3" fill="none" stroke="#9ac8a0" stroke-width="1"/><path d="M146 2.7 A7.3 7.3 0 0 0 146 17.3" fill="none" stroke="#5a8ad8" stroke-width="1"/><circle cx="146" cy="10" r="4.3" fill="none" stroke="#8ab89a" stroke-width="1"/><path d="M146 5.7 A4.3 4.3 0 0 0 146 14.3" fill="none" stroke="#4a7ad0" stroke-width="1"/><circle cx="146" cy="9.7" r="1.6" fill="#2a5ac8"/><rect x="145.8" y="10" width="1.3" height="8" fill="#1a9a1a"/><path d="M165.5 9.5 L181 8.8 L180 12 L172.5 17.6 Z" fill="#f2dc5a" stroke="#c8a830" stroke-width="0.7"/><ellipse cx="173" cy="6.8" rx="7.8" ry="2.6" fill="#5aaee0" stroke="#2a7ab0" stroke-width="0.8"/><ellipse cx="173.5" cy="4.6" rx="3.8" ry="2.8" fill="#86ccf2" stroke="#2a7ab0" stroke-width="0.7"/><circle cx="177.4" cy="13.6" r="4.1" fill="#d41a0e"/><rect x="175.7" y="11.9" width="3.4" height="3.4" fill="#fff"/><rect x="258.8" y="4" width="1.2" height="14" fill="#505050"/><rect x="256.3" y="15" width="14" height="1.2" fill="#505050"/><path d="M257.3 6 L259.40000000000003 3.5 L261.5 6 Z" fill="#505050"/><path d="M268.8 13.5 L271.3 15.6 L268.8 17.7 Z" fill="#505050"/><path d="M263.5 12.5 H265.5 V6 H268" fill="none" stroke="#1a9a1a" stroke-width="1.2"/><rect x="286.7" y="4" width="1.2" height="14" fill="#505050"/><rect x="284.2" y="15" width="14" height="1.2" fill="#505050"/><path d="M285.2 6 L287.3 3.5 L289.4 6 Z" fill="#505050"/><path d="M296.7 13.5 L299.2 15.6 L296.7 17.7 Z" fill="#505050"/><rect x="291.2" y="4.2" width="4.4" height="7.3" fill="#3ad04a" stroke="#0e8a1e" stroke-width="0.9"/><rect x="292.9" y="2" width="1" height="12" fill="#0e8a1e"/><rect x="291.6" y="4.6" width="3.6" height="6.5" fill="#5ae06a"/><rect x="314.8" y="4" width="1.2" height="14" fill="#505050"/><rect x="312.3" y="15" width="14" height="1.2" fill="#505050"/><path d="M313.3 6 L315.40000000000003 3.5 L317.5 6 Z" fill="#505050"/><path d="M324.8 13.5 L327.3 15.6 L324.8 17.7 Z" fill="#505050"/><path d="M314.5 12.5 Q318 9 320 7.5 Q322 6.5 324 8.5 Q325.5 10 326.5 10.5" fill="none" stroke="#2a9a2a" stroke-width="1.1"/><path d="M354.5 11.5 L360 17" stroke="#b08a10" stroke-width="3.2"/><path d="M354.5 11.5 L360 17" stroke="#f0e060" stroke-width="1.8"/><circle cx="351" cy="8" r="5.5" fill="#dcf0fc" stroke="#3a8ad0" stroke-width="1.1"/><rect x="348" y="7.3" width="6" height="1.6" fill="#3a7aa8"/><rect x="350.2" y="5" width="1.6" height="6" fill="#3a7aa8"/><path d="M382.5 11.5 L388 17" stroke="#b08a10" stroke-width="3.2"/><path d="M382.5 11.5 L388 17" stroke="#f0e060" stroke-width="1.8"/><circle cx="379" cy="8" r="5.5" fill="#dcf0fc" stroke="#3a8ad0" stroke-width="1.1"/><rect x="376" y="7.3" width="6" height="1.6" fill="#3a7aa8"/><rect x="401" y="2" width="8" height="8" rx="0.8" fill="#2a9a1a"/><rect x="402.2" y="5.5" width="5.6" height="3.3" fill="#eaf6ea"/><rect x="403" y="6.5" width="4" height="0.8" fill="#2a9a1a" opacity="0.6"/><rect x="409" y="2" width="8" height="8" rx="0.8" fill="#1a4ad0"/><rect x="410.2" y="5.5" width="5.6" height="3.3" fill="#eaf6ea"/><rect x="411" y="6.5" width="4" height="0.8" fill="#1a4ad0" opacity="0.6"/><rect x="401" y="10" width="8" height="8" rx="0.8" fill="#1a4ad0"/><rect x="402.2" y="13.5" width="5.6" height="3.3" fill="#eaf6ea"/><rect x="403" y="14.5" width="4" height="0.8" fill="#1a4ad0" opacity="0.6"/><rect x="409" y="10" width="8" height="8" rx="0.8" fill="#2a9a1a"/><rect x="410.2" y="13.5" width="5.6" height="3.3" fill="#eaf6ea"/><rect x="411" y="14.5" width="4" height="0.8" fill="#2a9a1a" opacity="0.6"/><rect x="439" y="4" width="1.2" height="14" fill="#505050"/><rect x="436.5" y="15" width="14" height="1.2" fill="#505050"/><path d="M437.5 6 L439.6 3.5 L441.7 6 Z" fill="#505050"/><path d="M449 13.5 L451.5 15.6 L449 17.7 Z" fill="#505050"/><path d="M444 6 L447.8 9.5 L444 13 Z" fill="#6ad06a" stroke="#1a9a1a" stroke-width="0.9"/><rect x="467" y="4" width="1.2" height="14" fill="#505050"/><rect x="464.5" y="15" width="14" height="1.2" fill="#505050"/><path d="M465.5 6 L467.6 3.5 L469.7 6 Z" fill="#505050"/><path d="M477 13.5 L479.5 15.6 L477 17.7 Z" fill="#505050"/><rect x="473" y="4" width="1.1" height="10" fill="#1a6aa0"/><path d="M474.5 9.5 L476.5 7 V8.8 H479 V10.2 H476.5 V12 Z" fill="#e05010"/><path d="M498.5 2.5 H506.5 L509 5 V15.5 H498.5 Z" fill="#fff" stroke="#7a7a7a" stroke-width="1"/><path d="M502.5 5.5 Q500.5 5.5 501 8 L501 12" fill="none" stroke="#5a4a2a" stroke-width="0.8"/><path d="M506 8 H509.6 V12 H513.8 V15.6 H509.6 V19.6 H506 V15.6 H502 V12 H506 Z" fill="#26d026" stroke="#0e8e0e" stroke-width="0.8"/><path d="M520 8.8 L525 8.8 L522.5 11.5 Z" fill="#000"/><path d="M559 8.8 L564 8.8 L561.5 11.5 Z" fill="#000"/><path d="M598 8.8 L603 8.8 L600.5 11.5 Z" fill="#000"/><path d="M904 8.8 L909 8.8 L906.5 11.5 Z" fill="#000"/><circle cx="544" cy="10" r="8" fill="#0a5ec0"/><circle cx="544" cy="10" r="7" fill="#2a8ae8"/><circle cx="544" cy="10" r="5.6" fill="#f6f8fa"/><circle cx="548.60" cy="10.00" r="0.35" fill="#888"/><circle cx="547.98" cy="12.30" r="0.35" fill="#888"/><circle cx="546.30" cy="13.98" r="0.35" fill="#888"/><circle cx="544.00" cy="14.60" r="0.35" fill="#888"/><circle cx="541.70" cy="13.98" r="0.35" fill="#888"/><circle cx="540.02" cy="12.30" r="0.35" fill="#888"/><circle cx="539.40" cy="10.00" r="0.35" fill="#888"/><circle cx="540.02" cy="7.70" r="0.35" fill="#888"/><circle cx="541.70" cy="6.02" r="0.35" fill="#888"/><circle cx="544.00" cy="5.40" r="0.35" fill="#888"/><circle cx="546.30" cy="6.02" r="0.35" fill="#888"/><circle cx="547.98" cy="7.70" r="0.35" fill="#888"/><path d="M543.2 5.8 L544 10.3 L547.3 10.8" fill="none" stroke="#111" stroke-width="1.1"/><rect x="575.5" y="3.5" width="15" height="13" fill="#fff" stroke="#3a70c0" stroke-width="1"/><rect x="576" y="4" width="14" height="1.5" fill="#8ab8ec"/><rect x="576" y="10.8" width="14" height="0.8" fill="#5a88d0"/><path d="M577 9.2 L579 9.2 L581 8.2 L583 8.6 L585 7.8 L588 7.9" fill="none" stroke="#a82a10" stroke-width="1"/><path d="M577 14.3 L579 13.9 L581 14.3 L583.5 12.8 L586.5 14.5" fill="none" stroke="#1a9a1a" stroke-width="1"/><path d="M627 3 L627 14.5 L629.5 12 L632 17.5 L634 16.5 L631.5 11.3 L635 11 Z" fill="#4a4a4a"/><rect x="659" y="3" width="1.2" height="6" fill="#505050"/><rect x="659" y="11.5" width="1.2" height="6" fill="#505050"/><rect x="652" y="9.9" width="6" height="1.1" fill="#505050"/><rect x="661.2" y="9.9" width="6" height="1.1" fill="#505050"/><rect x="693" y="4" width="1.2" height="13" fill="#505050"/><rect x="716" y="9.9" width="12" height="1.1" fill="#505050"/><path d="M744 17 L756 4.5" stroke="#505050" stroke-width="1.1"/><path d="M770 11.5 L777.5 4 M772 15.5 L784 3.5 M775.5 16.5 L783.5 8.5" stroke="#404040" stroke-width="1.1" fill="none"/><path d="M773.5 10 L772.5 14.5 M776 9 L775 13 M778.5 7 L777.5 11 M781.5 2.5 L781 8" stroke="#404040" stroke-width="0.8" fill="none"/><text x="780.8" y="19" font-size="6.5" font-weight="bold" fill="#404040" font-family="Liberation Sans, sans-serif">E</text><rect x="799" y="3.0" width="1" height="1" fill="#505050"/><rect x="801" y="3.0" width="1" height="1" fill="#505050"/><rect x="803" y="3.0" width="1" height="1" fill="#505050"/><rect x="805" y="3.0" width="1" height="1" fill="#505050"/><rect x="807" y="3.0" width="1" height="1" fill="#505050"/><rect x="809" y="3.0" width="1" height="1" fill="#505050"/><rect x="811" y="3.0" width="1" height="1" fill="#505050"/><rect x="799" y="6.0" width="1" height="1" fill="#505050"/><rect x="801" y="6.0" width="1" height="1" fill="#505050"/><rect x="803" y="6.0" width="1" height="1" fill="#505050"/><rect x="805" y="6.0" width="1" height="1" fill="#505050"/><rect x="807" y="6.0" width="1" height="1" fill="#505050"/><rect x="809" y="6.0" width="1" height="1" fill="#505050"/><rect x="811" y="6.0" width="1" height="1" fill="#505050"/><rect x="799" y="10.0" width="1" height="1" fill="#505050"/><rect x="801" y="10.0" width="1" height="1" fill="#505050"/><rect x="803" y="10.0" width="1" height="1" fill="#505050"/><rect x="805" y="10.0" width="1" height="1" fill="#505050"/><rect x="807" y="10.0" width="1" height="1" fill="#505050"/><rect x="809" y="10.0" width="1" height="1" fill="#505050"/><rect x="811" y="10.0" width="1" height="1" fill="#505050"/><rect x="799" y="14.0" width="1" height="1" fill="#505050"/><rect x="801" y="14.0" width="1" height="1" fill="#505050"/><rect x="803" y="14.0" width="1" height="1" fill="#505050"/><rect x="805" y="14.0" width="1" height="1" fill="#505050"/><rect x="807" y="14.0" width="1" height="1" fill="#505050"/><text x="808.5" y="19" font-size="6.5" font-weight="bold" fill="#404040" font-family="Liberation Sans, sans-serif">F</text><text x="829.6" y="15.2" font-size="12.4" fill="#555" stroke="#555" stroke-width="0.3" font-family="Liberation Sans, sans-serif">A</text><rect x="855.5" y="4" width="1" height="1" fill="#505050"/><rect x="855.5" y="16.3" width="1" height="1" fill="#505050"/><rect x="857.5" y="4" width="1" height="1" fill="#505050"/><rect x="857.5" y="16.3" width="1" height="1" fill="#505050"/><rect x="859.5" y="4" width="1" height="1" fill="#505050"/><rect x="859.5" y="16.3" width="1" height="1" fill="#505050"/><rect x="861.5" y="4" width="1" height="1" fill="#505050"/><rect x="861.5" y="16.3" width="1" height="1" fill="#505050"/><rect x="863.5" y="4" width="1" height="1" fill="#505050"/><rect x="863.5" y="16.3" width="1" height="1" fill="#505050"/><rect x="865.5" y="4" width="1" height="1" fill="#505050"/><rect x="865.5" y="16.3" width="1" height="1" fill="#505050"/><rect x="867.5" y="4" width="1" height="1" fill="#505050"/><rect x="867.5" y="16.3" width="1" height="1" fill="#505050"/><rect x="856" y="6" width="1" height="1" fill="#505050"/><rect x="868" y="6" width="1" height="1" fill="#505050"/><rect x="856" y="8" width="1" height="1" fill="#505050"/><rect x="868" y="8" width="1" height="1" fill="#505050"/><rect x="856" y="10" width="1" height="1" fill="#505050"/><rect x="868" y="10" width="1" height="1" fill="#505050"/><rect x="856" y="12" width="1" height="1" fill="#505050"/><rect x="868" y="12" width="1" height="1" fill="#505050"/><rect x="856" y="14" width="1" height="1" fill="#505050"/><rect x="868" y="14" width="1" height="1" fill="#505050"/><rect x="856" y="16" width="1" height="1" fill="#505050"/><rect x="868" y="16" width="1" height="1" fill="#505050"/><rect x="858" y="7" width="8" height="1.3" fill="#505050"/><rect x="861.3" y="7" width="1.5" height="8" fill="#505050"/><rect x="855" y="3" width="2" height="1.5" fill="#505050"/><path d="M883.2 7.4 L886.5 4.1 L889.7 7.4 L886.5 8.4 Z" fill="#505050"/><path d="M890.3 13.9 L893.6 10.6 L896.8 13.9 L893.6 16.8 Z" fill="#505050"/><path d="M885 11.3 L887.5 13.3 L891.5 8.2" fill="none" stroke="#505050" stroke-width="1.1"/><circle cx="1646.5" cy="7.3" r="3.6" fill="#f4f4ff" stroke="#2a5ad8" stroke-width="1.3"/><path d="M1643.5 10.3 L1639.8 14.6" stroke="#2a5ad8" stroke-width="2.4" stroke-linecap="round"/><path d="M1664 12 Q1664 7 1669 7 Q1674 7 1674 12 Q1674 16 1669 16 H1667.5 L1666.5 18.5 L1666 15.5 Q1664 14.5 1664 12 Z" fill="#e6e8f0" stroke="#a0a0a0" stroke-width="0.8"/><circle cx="1677.5" cy="7.7" r="8.3" fill="#e03a1e"/><text x="1677.5" y="12" font-size="10" fill="#fff" text-anchor="middle" font-family="Liberation Serif, serif" font-weight="bold">1</text></g><path d="M37.5 3 V4.5 M34.5 5 H40 M35.7 5.6 L36.2 7 M39.2 5.6 L38.7 7 M34.5 7.5 H40 M35 9.5 H39.8 M37.5 7.5 V14 M37 10.5 L34.5 13 M38 10.5 L40 12.5 M44.8 3.2 L41.8 4.8 M41.8 4.8 V11 Q41.8 13 40.8 14 M41.8 8 H45.5 M43.8 8 V14 M47.5 3.3 L49 4.8 M46.8 7.5 H48.5 V12.5 L50 11.2 M50.5 4.5 H57.8 M54.3 4.5 V13.5 H52.5 M61 3 L61.8 4.5 M66.8 3 L66 4.5 M59.5 5.5 H68.5 V9.5 H59.5 Z M59.5 7.5 H68.5 M64 5.5 V14 M58 11.5 H70 M191.8 2.8 L191.3 4.5 M187.5 4.5 H196.5 V13.8 M187.5 4.5 V13.8 M187.5 7 H196.5 M187.5 9.8 H196.5 M187.5 12.8 H196.5 M199.5 4.5 H203.5 M199 7.5 H204 M202 8 L199.5 12.3 L204 11.3 M203 10.3 L204 12.5 M204 6 H209 V12.5 Q209 13.5 207.5 13.5 M206.5 3 V6 Q206.5 11 203.8 13.8 M216 3 L216.6 4.5 M210.5 5.5 H221.5 M213.2 7 L211 9 M218.8 7 L221 9 M212 9.3 Q216 13 220.8 13.8 M220 9.3 Q216.5 13 211.3 13.8 M224.5 3.5 H232 V7.5 H224.5 Z M224.5 5.5 H232 M225 8 L223.3 10.3 M224.5 9.3 H232.5 V12.5 Q232.5 13.8 231 13.8 M226 9.5 L223.5 12.5 M228.5 9.5 L225.5 13.8 M231 9.5 L228 13.8" fill="none" stroke="#111" stroke-width="1" shape-rendering="geometricPrecision"/><text x="929.5" y="14" fill="#2a2a2a" stroke="#2a2a2a" stroke-width="0" font-size="10" text-anchor="start"  textLength="14.3" lengthAdjust="spacingAndGlyphs">M1</text><text x="957.5" y="14" fill="#2a2a2a" stroke="#2a2a2a" stroke-width="0" font-size="10" text-anchor="start"  textLength="14.4" lengthAdjust="spacingAndGlyphs">M5</text><text x="983.9" y="14" fill="#2a2a2a" stroke="#2a2a2a" stroke-width="0" font-size="10" text-anchor="start"  textLength="19.0" lengthAdjust="spacingAndGlyphs">M15</text><text x="1011.9" y="14" fill="#2a2a2a" stroke="#2a2a2a" stroke-width="0" font-size="10" text-anchor="start"  textLength="19.1" lengthAdjust="spacingAndGlyphs">M30</text><text x="1042.5" y="14" fill="#2a2a2a" stroke="#2a2a2a" stroke-width="0" font-size="10" text-anchor="start"  textLength="13.4" lengthAdjust="spacingAndGlyphs">H1</text><text x="1069.9" y="14" fill="#2a2a2a" stroke="#2a2a2a" stroke-width="0" font-size="10" text-anchor="start"  textLength="13.6" lengthAdjust="spacingAndGlyphs">H4</text><text x="1098.5" y="14" fill="#2a2a2a" stroke="#2a2a2a" stroke-width="0" font-size="10" text-anchor="start"  textLength="13.5" lengthAdjust="spacingAndGlyphs">D1</text><text x="1126.4" y="14" fill="#2a2a2a" stroke="#2a2a2a" stroke-width="0" font-size="10" text-anchor="start"  textLength="15.6" lengthAdjust="spacingAndGlyphs">W1</text><text x="1152.8" y="14" fill="#2a2a2a" stroke="#2a2a2a" stroke-width="0" font-size="10" text-anchor="start"  textLength="16.0" lengthAdjust="spacingAndGlyphs">MN</text></svg></body></html>
